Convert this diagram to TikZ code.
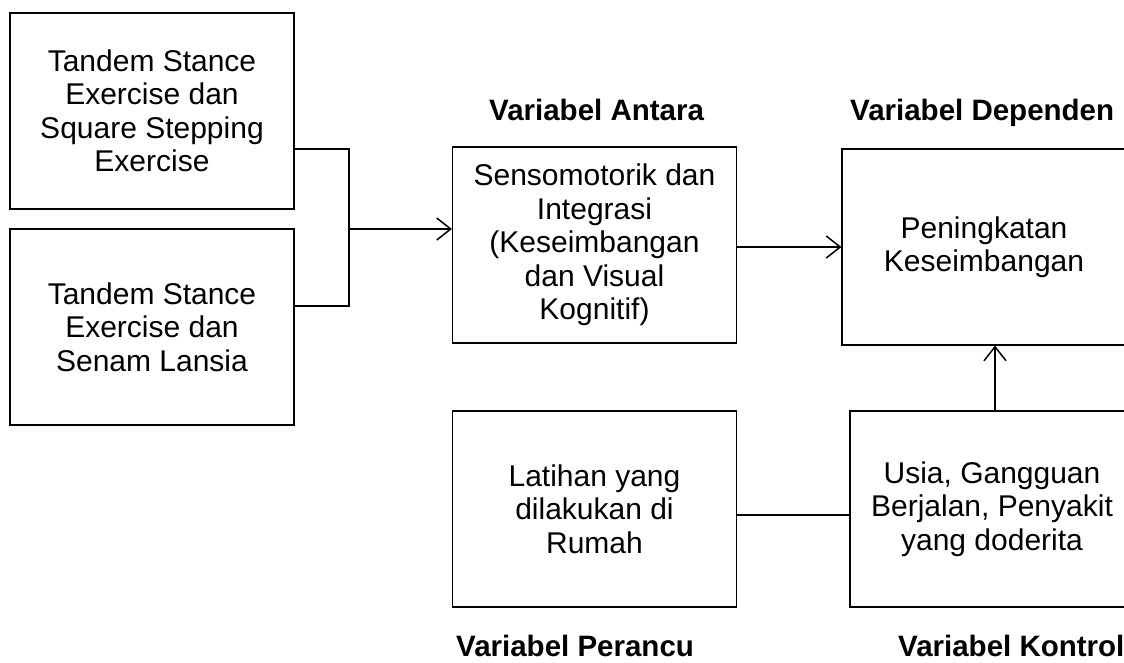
\documentclass[tikz,border=0pt]{standalone}
\usepackage{fontspec}
\setmainfont{Liberation Sans}
\usetikzlibrary{arrows.meta}
\tikzset{
  box/.style={draw, line width=1.1pt, rectangle, minimum width=284pt, minimum height=196pt, inner sep=0pt, align=center, font=\fontsize{30}{33.5}\selectfont},
  conn/.style={line width=1.6pt},
  arr/.style={conn, -{Straight Barb[length=14pt,width=22pt,line width=1.5pt]}},
  head/.style={anchor=base west, inner sep=0pt, font=\fontsize{29.5}{33.5}\selectfont\bfseries}
}
\begin{document}
\begin{tikzpicture}[x=1pt,y=-1pt]
\useasboundingbox (0,0) rectangle (1124,662);
\clip (0,0) rectangle (1124,662);
\node[box] (b1) at (152,111) {Tandem Stance\\Exercise dan\\Square Stepping\\Exercise};
\node[box] (b2) at (152,327) {Tandem Stance\\Exercise dan\\Senam Lansia};
\node[box] (mid) at (594.5,245) {Sensomotorik dan\\Integrasi\\(Keseimbangan\\dan Visual\\Kognitif)};
\node[box] (dep) at (984,247) {Peningkatan\\Keseimbangan};
\node[box] (per) at (594.5,509) {Latihan yang\\dilakukan di\\Rumah};
\node[box] (ctl) at (992,509) {Usia, Gangguan\\Berjalan, Penyakit\\yang doderita};
\node[head] (hA) at (489,120) {Variabel Antara};
\node[head] (hD) at (850,120) {Variabel Dependen};
\node[head] (hP) at (456,656) {Variabel Perancu};
\node[head] (hK) at (898,656) {Variabel Kontrol};
\coordinate (j1) at (349,149);
\coordinate (j2) at (349,306);
\coordinate (j3) at (349,229);
\coordinate (a) at (0,247);
\coordinate (u) at (995,0);
\coordinate (l) at (0,515);
\draw[conn] (b1.east |- j1) -- (j1) -- (j2) -- (b2.east |- j2);
\draw[arr] (j3) -- (mid.west |- j3);
\draw[arr] (mid.east |- a) -- (dep.west |- a);
\draw[arr] (ctl.north -| u) -- (dep.south -| u);
\draw[conn] (per.east |- l) -- (ctl.west |- l);
\end{tikzpicture}
\end{document}
